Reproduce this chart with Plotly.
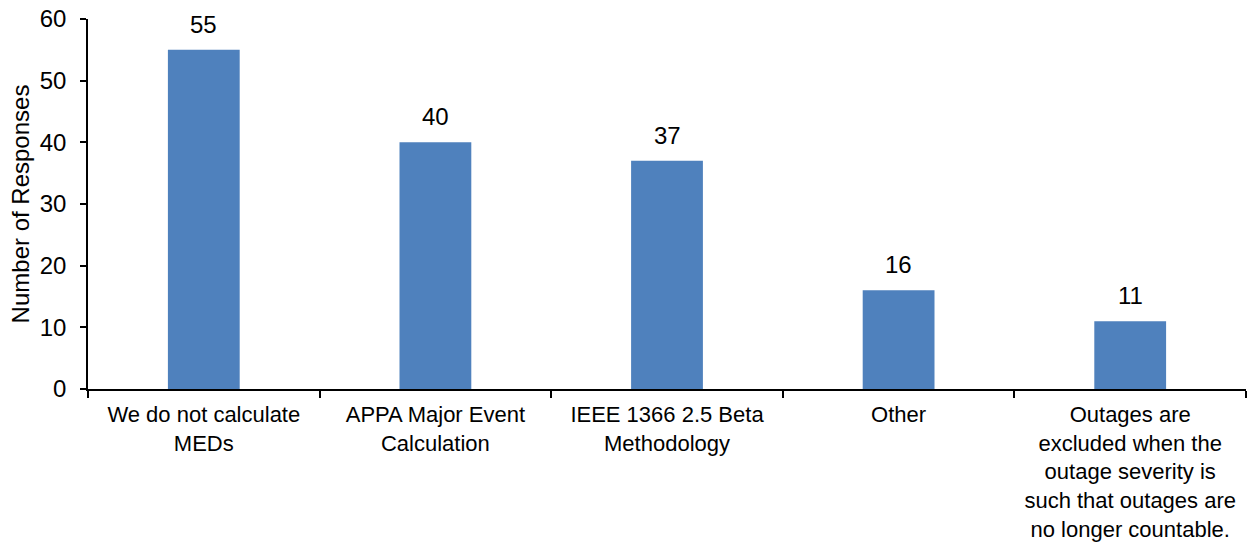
import plotly.graph_objects as go

categories = [
    "We do not calculate<br>MEDs",
    "APPA Major Event<br>Calculation",
    "IEEE 1366 2.5 Beta<br>Methodology",
    "Other",
    "Outages are<br>excluded when the<br>outage severity is<br>such that outages are<br>no longer countable.",
]
responses = [55, 40, 37, 16, 11]
y_ticks = [0, 10, 20, 30, 40, 50, 60]

FONT = "Liberation Sans, Arial, sans-serif"
BAR = "#4F81BD"

fig = go.Figure()
fig.add_trace(go.Bar(
    x=categories, y=responses, marker_color=BAR, marker_line_width=0,
    hoverinfo="x+y", showlegend=False,
))

for c, v in zip(categories, responses):
    fig.add_annotation(x=c, y=v, text=str(v), showarrow=False,
                       yanchor="bottom", yshift=10,
                       font=dict(family=FONT, size=24, color="black"))

fig.update_layout(
    width=1256, height=542,
    margin=dict(l=88, r=10, t=19, b=153, autoexpand=False),
    paper_bgcolor="white", plot_bgcolor="white",
    bargap=0.69,
    font=dict(family=FONT, size=24, color="black"),
    xaxis=dict(
        automargin=False,
        showline=True, linecolor="black", linewidth=1.5,
        ticks="outside", ticklen=7, tickcolor="black", tickwidth=1.5,
        tickson="boundaries", showgrid=False,
        tickfont=dict(family=FONT, size=22, color="black"),
        ticklabelstandoff=5,
    ),
    yaxis=dict(
        automargin=False,
        range=[0, 60], tickvals=y_ticks,
        showline=True, linecolor="black", linewidth=1.5,
        ticks="outside", ticklen=6, tickcolor="black", tickwidth=1.5,
        showgrid=False, zeroline=False,
        tickfont=dict(family=FONT, size=24, color="black"),
        ticklabelstandoff=9,
        title=dict(text="Number of Responses", standoff=3,
                   font=dict(family=FONT, size=24, color="black")),
    ),
    yaxis2=dict(
        automargin=False,
        range=[0, 60], tickvals=y_ticks, overlaying="y", side="left",
        ticks="inside", ticklen=7, tickcolor="black", tickwidth=1.5,
        showticklabels=False, showline=False, showgrid=False, zeroline=False,
    ),
)

fig.write_html("out.html", config={"displayModeBar": False},
               post_script="document.body.style.margin='0';")
